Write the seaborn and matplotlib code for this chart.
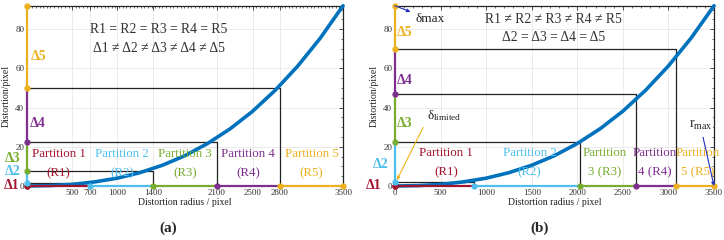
import matplotlib
matplotlib.use('Agg')
from matplotlib import pyplot as plt
from matplotlib.ticker import AutoMinorLocator
import seaborn as sns
import pandas as pd

# ---------------- data ----------------
# distortion curve (same in both panels)
radius = [0, 250, 500, 750, 1000, 1250, 1500, 1750, 2000, 2250, 2500, 2750, 3000, 3250, 3500]
distortion = [0, 0.2, 0.8, 2.1, 4.0, 6.8, 10.6, 15.5, 21.7, 29.2, 38.2, 48.9, 61.3, 75.6, 92]

# (a) equal radius partitions
bound_r_a = [0, 700, 1400, 2100, 2800, 3500]
bound_d_a = [0, 1.7, 7.8, 22.7, 50, 92]
# (b) equal distortion partitions
bound_r_b = [0, 870, 2030, 2640, 3085, 3500]
bound_d_b = [0, 2, 22.7, 47, 69.7, 92]

part_colors = ['#A2142F', '#4DBEEE', '#77AC30', '#7E2F8E', '#EDB120']
dot_colors = part_colors + ['#EDB120']
delta_names = ['Δ1', 'Δ2', 'Δ3', 'Δ4', 'Δ5']

xticks_a = [500, 700, 1000, 1400, 2100, 2500, 2800, 3500]
xticks_b = [0, 500, 1000, 1500, 2000, 2500, 3000, 3500]
yticks = [0, 20, 40, 60, 80]

# label positions (axes-fraction x, data y)
delta_pos_a = [(-0.050, 0.5), (-0.046, 7.4), (-0.046, 14), (0.035, 32), (0.035, 66)]
delta_pos_b = [(-0.066, 0.5), (-0.046, 10.8), (0.031, 32), (0.031, 54), (0.031, 78.5)]

sns.set_style('white')
plt.rcParams['font.family'] = ['Liberation Serif', 'DejaVu Serif']
plt.rcParams['mathtext.fontset'] = 'custom'
plt.rcParams['mathtext.rm'] = 'Liberation Serif'
plt.rcParams['mathtext.it'] = 'Liberation Serif:italic'

fig = plt.figure(figsize=(7.24, 2.4), dpi=100)
ax_a = fig.add_axes([0.0373, 0.225, 0.4365, 0.751])
ax_b = fig.add_axes([0.5456, 0.225, 0.4406, 0.751])

curve_df = pd.DataFrame({'r': radius, 'd': distortion})


def draw_panel(ax, bound_r, bound_d, xticks, delta_pos):
    ax.set_xlim(0, 3500)
    ax.set_ylim(0, 92)
    ax.set_xticks(xticks)
    ax.set_yticks(yticks)
    ax.xaxis.set_minor_locator(AutoMinorLocator(5))
    ax.yaxis.set_minor_locator(AutoMinorLocator(4))
    ax.tick_params(which='both', direction='in', top=True, right=True,
                   labelsize=6.5, pad=2, colors='#333333')
    ax.tick_params(which='major', length=3, width=0.6)
    ax.tick_params(which='minor', length=1.5, width=0.5)
    ax.grid(True, color='#e8e8e8', lw=0.6)
    ax.set_axisbelow(True)
    for s in ['left', 'bottom']:
        ax.spines[s].set_visible(False)
    for s in ['top', 'right']:
        ax.spines[s].set_color('#222222')
        ax.spines[s].set_linewidth(0.9)

    # partition boxes
    for r, d in zip(bound_r[1:-1], bound_d[1:-1]):
        ax.plot([0, r, r], [d, d, 0], color='#222222', lw=0.9, zorder=3)

    # curve
    sns.lineplot(data=curve_df, x='r', y='d', ax=ax, color='#0072BD',
                 lw=2.6, zorder=4, clip_on=False)

    # coloured axis segments and dots
    for i, c in enumerate(part_colors):
        ax.plot([bound_r[i], bound_r[i + 1]], [0, 0], color=c, lw=1.6,
                clip_on=False, zorder=5)
        ax.plot([0, 0], [bound_d[i], bound_d[i + 1]], color=c, lw=1.6,
                clip_on=False, zorder=5)
    for i, c in enumerate(dot_colors):
        ax.plot(bound_r[i], 0, 'o', color=c, ms=3.5, clip_on=False, zorder=6)
        ax.plot(0, bound_d[i], 'o', color=c, ms=3.5, clip_on=False, zorder=6)

    tr = ax.get_yaxis_transform()
    for (xf, y), name, c in zip(delta_pos, delta_names, part_colors):
        ax.text(xf, y, name, transform=tr, color=c, fontsize=10,
                fontweight='bold', ha='center', va='center', zorder=7)

    ax.set_xlabel('Distortion radius / pixel', fontsize=7, labelpad=1, color='#222222')
    ax.set_ylabel('Distortion/pixel', fontsize=7, labelpad=3, color='#222222')


draw_panel(ax_a, bound_r_a, bound_d_a, xticks_a, delta_pos_a)
draw_panel(ax_b, bound_r_b, bound_d_b, xticks_b, delta_pos_b)

# ---- panel (a) texts ----
ax_a.text(1460, 80, 'R1 = R2 = R3 = R4 = R5', fontsize=9.8, ha='center', va='center', color='#333333')
ax_a.text(1460, 70, 'Δ1 ≠ Δ2 ≠ Δ3 ≠ Δ4 ≠ Δ5', fontsize=9.8, ha='center', va='center', color='#333333')
for k, c in enumerate(part_colors):
    xc = 350 + 700 * k
    ax_a.text(xc, 16.5, f'Partition {k + 1}', color=c, fontsize=9.3, ha='center', va='center', zorder=6)
    ax_a.text(xc, 6.7, f'(R{k + 1})', color=c, fontsize=9.3, ha='center', va='center', zorder=6)

# ---- panel (b) texts ----
ax_b.text(1741, 85, 'R1 ≠ R2 ≠ R3 ≠ R4 ≠ R5', fontsize=9.8, ha='center', va='center', color='#333333')
ax_b.text(1741, 76, 'Δ2 = Δ3 = Δ4 = Δ5', fontsize=9.8, ha='center', va='center', color='#333333')
part_b_x = [560, 1476, 2303, 2847, 3325]
part_b_top = ['Partition 1', 'Partition 2', 'Partition', 'Partition', 'Partition']
part_b_bot = ['(R1)', '(R2)', '3 (R3)', '4 (R4)', '5 (R5)']
for xc, t1, t2, c in zip(part_b_x, part_b_top, part_b_bot, part_colors):
    ax_b.text(xc, 17, t1, color=c, fontsize=9.3, ha='center', va='center', zorder=6)
    ax_b.text(xc, 7.2, t2, color=c, fontsize=9.3, ha='center', va='center', zorder=6)

ax_b.annotate('δmax', xy=(0, 92), xytext=(220, 85), fontsize=9.5, va='center',
              color='#222222',
              arrowprops=dict(arrowstyle='<|-', color='#2030C0', lw=0.8,
                              shrinkA=1, shrinkB=0, mutation_scale=5),
              annotation_clip=False, zorder=8)
ax_b.annotate(r'$\mathrm{\delta_{limited}}$', xy=(20, 3), xytext=(350, 36),
              fontsize=9.5, va='center', color='#222222',
              arrowprops=dict(arrowstyle='-|>', color='#EDB120', lw=0.8,
                              shrinkA=1, shrinkB=0, mutation_scale=5,
                              relpos=(0, 0.2)),
              annotation_clip=False, zorder=8)
ax_b.annotate(r'$\mathrm{r_{max}}$', xy=(3500, 0), xytext=(3350, 31),
              fontsize=10, ha='center', va='center', color='#222222',
              bbox=dict(boxstyle='square,pad=0.1', fc='white', ec='none'),
              arrowprops=dict(arrowstyle='-|>', color='#2030C0', lw=0.8,
                              shrinkA=3, shrinkB=0, mutation_scale=5),
              annotation_clip=False, zorder=8)

fig.text(0.232, 0.05, '(a)', fontsize=11, fontweight='bold', ha='center', va='center')
fig.text(0.745, 0.05, '(b)', fontsize=11, fontweight='bold', ha='center', va='center')

fig.savefig('out.png', dpi=100)
